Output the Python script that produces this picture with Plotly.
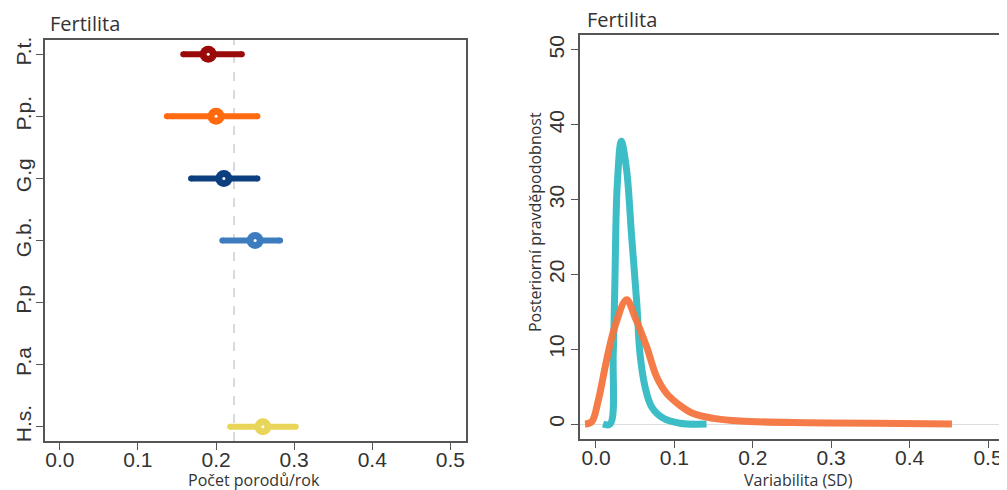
import plotly.graph_objects as go

# ---------- data: left panel (posterior intervals) ----------
species = ["P.t.", "P.p.", "G.g", "G.b.", "P.p", "P.a", "H.s."]
est_mean = [0.190, 0.200, 0.210, 0.250, None, None, 0.260]
est_low = [0.158, 0.137, 0.168, 0.208, None, None, 0.218]
est_high = [0.233, 0.253, 0.253, 0.282, None, None, 0.302]
species_colors = ["#9a0a0a", "#ff6a0f", "#0b3f80", "#3e7cc0", None, None, "#e9d55a"]
ref_value = 0.223
left_xticks = [0.0, 0.1, 0.2, 0.3, 0.4, 0.5]

# ---------- data: right panel (posterior densities) ----------
cyan_x = [0.009, 0.018, 0.022, 0.024, 0.027, 0.0323, 0.039, 0.0455, 0.052, 0.056,
          0.0625, 0.071, 0.086, 0.107, 0.141]
cyan_y = [0.0, 0.0, 9.4, 18.4, 31.7, 37.8, 34.0, 25.0, 16.2, 9.5,
          5.0, 2.3, 0.76, 0.1, 0.0]
orange_x = [-0.014, -0.0055, 0.003, 0.0136, 0.024, 0.039, 0.0497, 0.0647, 0.0774, 0.090,
            0.107, 0.124, 0.150, 0.184, 0.269, 0.354, 0.454]
orange_y = [0.0, 0.3, 3.2, 8.6, 13.0, 16.6, 14.3, 10.3, 6.3, 4.1,
            2.5, 1.4, 0.76, 0.4, 0.18, 0.1, 0.02]
right_xticks = [0.0, 0.1, 0.2, 0.3, 0.4, 0.5]
right_yticks = [0, 10, 20, 30, 40, 50]

cyan_color = "#3dbec7"
orange_color = "#f57640"

W, H = 1007, 490
OFF = 8  # page body margin offset


def px(x):
    return (x - OFF) / W


def py(y):
    return 1 - (y - OFF) / H


fig = go.Figure()

# left panel
for i, (name, m, lo, hi, c) in enumerate(zip(species, est_mean, est_low, est_high, species_colors)):
    if m is None:
        continue
    fig.add_trace(go.Scatter(
        x=[lo, hi], y=[i, i], mode="lines+markers",
        line=dict(color=c, width=6), marker=dict(color=c, size=6),
        xaxis="x", yaxis="y", showlegend=False, hoverinfo="skip"))
    fig.add_trace(go.Scatter(
        x=[m], y=[i], mode="markers",
        marker=dict(color=c, size=17, line=dict(width=0)),
        xaxis="x", yaxis="y", showlegend=False, name=name))
    fig.add_trace(go.Scatter(
        x=[m], y=[i], mode="markers",
        marker=dict(color="white", size=3, line=dict(width=0)),
        xaxis="x", yaxis="y", showlegend=False, hoverinfo="skip"))

fig.add_shape(type="line", xref="x", yref="y domain", x0=ref_value, x1=ref_value,
              y0=0, y1=1, line=dict(color="#b5b5b5", width=1, dash="dash"), layer="below")

# right panel
fig.add_trace(go.Scatter(x=cyan_x, y=cyan_y, mode="lines", line=dict(color=cyan_color, width=7, shape="spline"),
                         xaxis="x2", yaxis="y2", showlegend=False))
fig.add_trace(go.Scatter(x=orange_x, y=orange_y, mode="lines", line=dict(color=orange_color, width=7, shape="spline"),
                         xaxis="x2", yaxis="y2", showlegend=False, opacity=0.95))

tickfont = dict(family="Liberation Sans, Arial, sans-serif", size=21, color="#333333")
axis_common = dict(showline=True, mirror=True, linecolor="#555555", linewidth=1.5,
                   ticks="outside", ticklen=7, tickcolor="#555555", tickwidth=1,
                   showgrid=False, tickfont=tickfont, automargin=False)

fig.update_layout(
    width=W, height=H,
    margin=dict(l=0, r=0, t=0, b=0),
    paper_bgcolor="white", plot_bgcolor="white",
    xaxis=dict(domain=[px(45), px(466)], range=[-0.019, 0.52], tickvals=left_xticks,
               tickformat=".1f", zeroline=False, anchor="y", ticklabelstandoff=-8, **axis_common),
    yaxis=dict(domain=[py(441), py(40)], range=[6.23, -0.23], tickvals=list(range(len(species))),
               ticktext=species, tickangle=-90, zeroline=False, anchor="x", ticklabelstandoff=-3,
               **axis_common),
    xaxis2=dict(domain=[px(580), px(1004)], range=[-0.0204, 0.5204], tickvals=right_xticks,
                tickformat=".1f", zeroline=False, anchor="y2", ticklabelstandoff=-8, **axis_common),
    yaxis2=dict(domain=[py(439), py(35)], range=[-2.0, 52.0], tickvals=right_yticks,
                tickangle=-90, zeroline=True, zerolinecolor="#dddddd", zerolinewidth=1,
                anchor="x2", ticklabelstandoff=-1, **axis_common),
)

labfont = dict(family="Open Sans, sans-serif", size=16, color="#333333")
titlefont = dict(family="Open Sans, sans-serif", size=20, color="#333333")
fig.add_annotation(text="Fertilita", xref="paper", yref="paper", x=px(48), y=py(24),
                   xanchor="left", yanchor="middle", showarrow=False, font=titlefont)
fig.add_annotation(text="Fertilita", xref="paper", yref="paper", x=px(585), y=py(20),
                   xanchor="left", yanchor="middle", showarrow=False, font=titlefont)
fig.add_annotation(text="Počet porodů/rok", xref="paper", yref="paper", x=px(254), y=py(480),
                   xanchor="center", yanchor="middle", showarrow=False, font=labfont)
fig.add_annotation(text="Variabilita (SD)", xref="paper", yref="paper", x=px(798), y=py(480),
                   xanchor="center", yanchor="middle", showarrow=False, font=labfont)
fig.add_annotation(text="Posteriorní pravděpodobnost", xref="paper", yref="paper", x=px(535), y=py(222),
                   xanchor="center", yanchor="middle", textangle=-90, showarrow=False, font=labfont)

fig.write_html("out.html")
